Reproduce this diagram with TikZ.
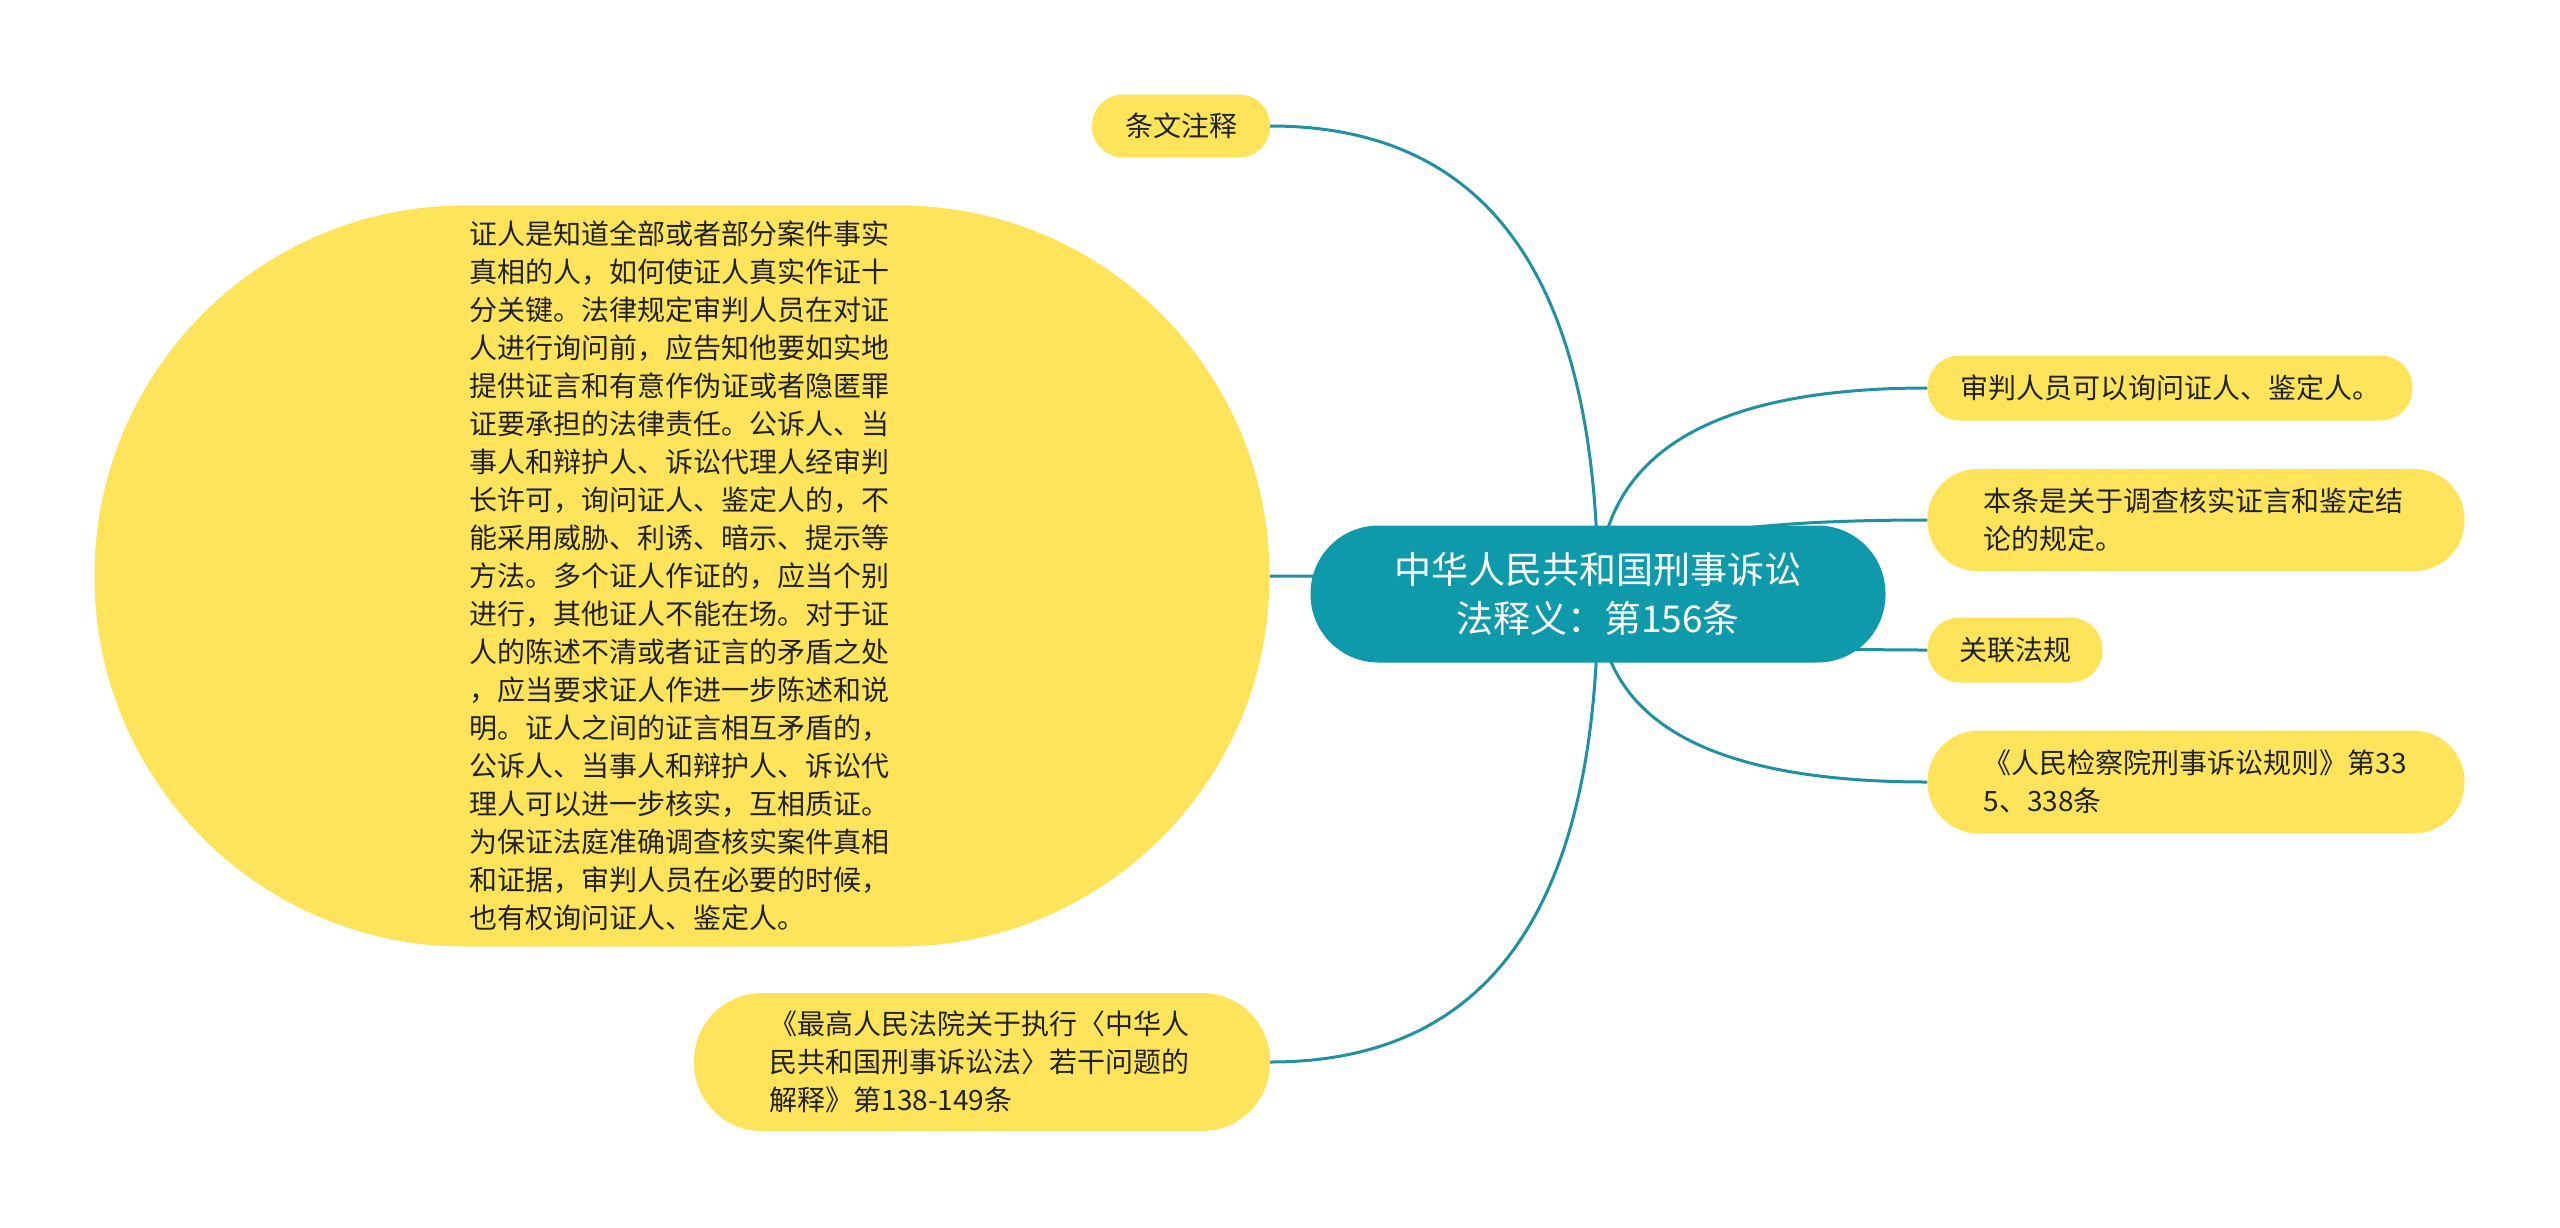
\documentclass[tikz,border=0pt]{standalone}
\usepackage{fontspec}
\newfontfamily\cjk{Noto Sans CJK SC}
\usetikzlibrary{calc,backgrounds}

\definecolor{rootteal}{HTML}{0E9AAB}
\definecolor{linkteal}{HTML}{1F91A2}
\definecolor{leafyellow}{HTML}{FDE45A}
\definecolor{leaftext}{HTML}{222222}

\tikzset{
  topic/.style={rectangle, fill=rootteal, text=white, align=center,
    font=\cjk\fontsize{37}{49}\selectfont, inner sep=0pt},
  leaf/.style={rectangle, fill=leafyellow, text=leaftext, align=left,
    font=\cjk\fontsize{28}{38}\selectfont, inner sep=0pt},
  link/.style={draw=linkteal, line width=3pt},
  branch/.style={to path={.. controls ($(\tikztostart)!.67!(\tikztostart |- \tikztotarget)$)
    and ($(\tikztotarget)!.67!(\tikztostart |- \tikztotarget)$) .. (\tikztotarget)}}
}

\begin{document}
\begin{tikzpicture}[x=1pt,y=-1pt]
        \useasboundingbox (0,0) rectangle (2560,1227);

        \node[topic, minimum width=575pt, minimum height=137pt, rounded corners=68pt] (root) at (1598,594)
          {中华人民共和国刑事诉讼\\法释义：第156条};

        % left side
        \node[leaf, minimum width=178pt, minimum height=63pt, rounded corners=31pt] (note) at (1181,126) {条文注释};
        \node[leaf, minimum width=1175pt, minimum height=741pt, rounded corners=370pt, text width=425pt] (expl) at (682,576) {%
          证人是知道全部或者部分案件事实\\
          真相的人，如何使证人真实作证十\\
          分关键。法律规定审判人员在对证\\
          人进行询问前，应告知他要如实地\\
          提供证言和有意作伪证或者隐匿罪\\
          证要承担的法律责任。公诉人、当\\
          事人和辩护人、诉讼代理人经审判\\
          长许可，询问证人、鉴定人的，不\\
          能采用威胁、利诱、暗示、提示等\\
          方法。多个证人作证的，应当个别\\
          进行，其他证人不能在场。对于证\\
          人的陈述不清或者证言的矛盾之处\\
          ，应当要求证人作进一步陈述和说\\
          明。证人之间的证言相互矛盾的，\\
          公诉人、当事人和辩护人、诉讼代\\
          理人可以进一步核实，互相质证。\\
          为保证法庭准确调查核实案件真相\\
          和证据，审判人员在必要的时候，\\
          也有权询问证人、鉴定人。};
        \node[leaf, minimum width=576pt, minimum height=138pt, rounded corners=68pt, text width=425pt] (interp) at (982,1062) {%
          《最高人民法院关于执行〈中华人\\
          民共和国刑事诉讼法〉若干问题的\\
          解释》第138-149条};

        % right side
        \node[leaf, minimum width=485pt, minimum height=65pt, rounded corners=32pt] (judge) at (2170,388) {审判人员可以询问证人、鉴定人。};
        \node[leaf, minimum width=537pt, minimum height=102pt, rounded corners=50pt, text width=425pt] (scope) at (2196,520) {%
          本条是关于调查核实证言和鉴定结\\
          论的规定。};
        \node[leaf, minimum width=175pt, minimum height=65pt, rounded corners=32pt] (rel) at (2015,650) {关联法规};
        \node[leaf, minimum width=537pt, minimum height=103pt, rounded corners=51pt, text width=425pt] (proc) at (2196,782) {%
          《人民检察院刑事诉讼规则》第33\\
          5、338条};

        \begin{scope}[on background layer]
          \draw[link] (root.center) to[branch] (note.east);
          \draw[link] (root.center) to[branch] (expl.east);
          \draw[link] (root.center) to[branch] (interp.east);
          \draw[link] (root.center) to[branch] (judge.west);
          \draw[link] (root.center) to[branch] (scope.west);
          \draw[link] (root.center) to[branch] (rel.west);
          \draw[link] (root.center) to[branch] (proc.west);
        \end{scope}
      \end{tikzpicture}
\end{document}
